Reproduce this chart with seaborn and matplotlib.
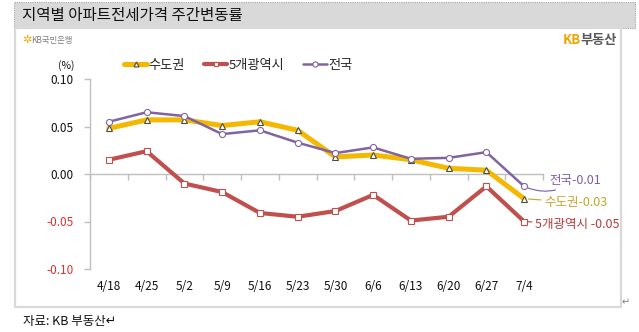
import matplotlib
matplotlib.use("Agg")
import matplotlib.pyplot as plt
from matplotlib.patches import Rectangle
import seaborn as sns
import pandas as pd

# weekly change of apartment jeonse prices (%)
weeks = ["4/18", "4/25", "5/2", "5/9", "5/16", "5/23", "5/30",
         "6/6", "6/13", "6/20", "6/27", "7/4"]
capital = [0.048, 0.057, 0.057, 0.051, 0.055, 0.046, 0.018,
           0.020, 0.015, 0.006, 0.004, -0.026]
metro5 = [0.015, 0.024, -0.010, -0.019, -0.041, -0.045, -0.039,
          -0.022, -0.049, -0.045, -0.013, -0.050]
nation = [0.055, 0.065, 0.061, 0.042, 0.046, 0.033, 0.022,
          0.028, 0.016, 0.017, 0.023, -0.013]
series_names = ["수도권", "5개광역시", "전국"]
y_ticks = [-0.10, -0.05, 0.00, 0.05, 0.10]

sns.set_theme(style="white")
plt.rcParams["font.family"] = ["Noto Sans CJK KR", "DejaVu Sans"]

W, H = 639, 332
fig = plt.figure(figsize=(W / 100, H / 100), dpi=100)
fig.patch.set_facecolor("white")

def fx(px):
    return px / W

def fy(py):
    return 1 - py / H

# title bar and content frame
fig.patches.append(Rectangle((fx(14), fy(28)), fx(621), 26 / H, transform=fig.transFigure,
                             facecolor="#d9d9d9", edgecolor="#a6a6a6", linestyle=(0, (1, 1)),
                             linewidth=0.8, zorder=-10))
fig.patches.append(Rectangle((fx(15), fy(307)), fx(606), 279 / H, transform=fig.transFigure,
                             facecolor="white", edgecolor="#d9d9d9", linewidth=1.6, zorder=-10))
fig.text(fx(22), fy(15), "지역별 아파트전세가격 주간변동률", fontsize=11.2, color="#111111",
         va="center", ha="left")

# logos
fig.text(fx(22), fy(40), "✲", fontsize=8, color="#f2a900", va="center", ha="left",
         family=["DejaVu Sans"], fontweight="bold")
fig.text(fx(31), fy(40), "KB국민은행", fontsize=6, color="#7f7f7f", va="center", ha="left")
fig.text(fx(563), fy(40), "KB", fontsize=9.5, color="#f0a500", va="center", ha="left",
         fontweight="bold")
fig.text(fx(580), fy(40), "부동산", fontsize=9.5, color="#595959", va="center", ha="left",
         fontweight="bold")
fig.text(fx(23), fy(322), "자료: KB 부동산↵", fontsize=9, color="#111111", va="center", ha="left")
fig.text(fx(622), fy(302), "↵", fontsize=7, color="#7f7f7f", va="center", ha="left",
         family=["DejaVu Sans"])

ax = fig.add_axes([fx(90), fy(269), (543 - 90) / W, (269 - 79) / H])
ax.set_facecolor("none")
ax.set_zorder(5)

df = pd.DataFrame({"week": weeks * 3,
                   "value": capital + metro5 + nation,
                   "series": [series_names[0]] * 12 + [series_names[1]] * 12 + [series_names[2]] * 12})

styles = {
    "수도권": dict(color="#f5b800", lw=3.6, marker="^", ms=4.2, mec="#4d4d33", mew=0.8),
    "5개광역시": dict(color="#c0504d", lw=3.0, marker="s", ms=4.0, mec="#c0504d", mew=0.8),
    "전국": dict(color="#8064a2", lw=1.8, marker="o", ms=4.4, mec="#8064a2", mew=0.8),
}
for i, name in enumerate(series_names):
    st = styles[name]
    sns.lineplot(data=df[df["series"] == name], x="week", y="value", ax=ax, sort=False,
                 color=st["color"], linewidth=st["lw"], marker=st["marker"],
                 markersize=st["ms"], markerfacecolor="white", markeredgecolor=st["mec"],
                 markeredgewidth=st["mew"], label=name, zorder=3 + i)

ax.set_xlim(-0.5, len(weeks) - 0.5)
ax.set_ylim(-0.10, 0.10)
ax.set_xlabel("")
ax.set_ylabel("")

# zero-line category axis with boundary ticks
ax.spines["bottom"].set_position(("data", 0))
ax.spines["bottom"].set_color("#bfbfbf")
ax.spines["bottom"].set_linewidth(1.0)
ax.set_xticks([i - 0.5 for i in range(len(weeks) + 1)])
ax.tick_params(axis="x", which="major", length=4, width=1.0, color="#bfbfbf",
               direction="out", bottom=True, labelbottom=False)
for s in ["top", "right"]:
    ax.spines[s].set_visible(False)
ax.spines["left"].set_color("#bfbfbf")
ax.spines["left"].set_linewidth(1.0)

sec = ax.secondary_xaxis(0)
sec.set_xticks(range(len(weeks)))
sec.set_xticklabels(weeks)
sec.tick_params(length=0, pad=8, labelsize=8.5, labelcolor="#111111")
sec.spines["bottom"].set_visible(False)

ax.set_yticks(y_ticks)
ax.set_yticklabels([f"{v:.2f}" for v in y_ticks])
ax.tick_params(axis="y", length=4, width=1.0, color="#bfbfbf", direction="out",
               left=True, pad=8, labelsize=8.5)
for lab, v in zip(ax.get_yticklabels(), y_ticks):
    lab.set_color("#e03030" if v < 0 else "#111111")

fig.text(fx(66), fy(66), "(%)", fontsize=7.5, color="#111111", va="center", ha="center")

# legend along the top
handles, labels = ax.get_legend_handles_labels()
if ax.get_legend():
    ax.get_legend().remove()
fig.legend(handles, labels, loc="center", bbox_to_anchor=(fx(238), fy(65)), ncol=3,
           frameon=False, fontsize=9.5, handlelength=1.8, columnspacing=1.4,
           handletextpad=0.1, borderaxespad=0, markerscale=0.85)

# end-of-line value labels with leader lines
last = len(weeks) - 1
end_labels = [
    ("전국", nation[-1], "#7b5ea7", 0.0065, 0.66, "전국"),
    ("수도권", capital[-1], "#c9a227", -0.004, 0.53, "수도권"),
    ("5개광역시", metro5[-1], "#b83a3a", -0.003, 0.29, "5개광역시 "),
]
for name, val, col, dy, dx, prefix in end_labels:
    ax.annotate(f"{prefix}{val:.2f}", xy=(last, val), xytext=(last + dx, val + dy),
                fontsize=9, color=col, va="center", ha="left", annotation_clip=False,
                arrowprops=dict(arrowstyle="-", color=col, lw=0.8, shrinkA=0, shrinkB=3,
                                connectionstyle="arc3,rad=-0.3" if name == "전국" else "arc3,rad=0"))

fig.savefig("out.png", dpi=100)
